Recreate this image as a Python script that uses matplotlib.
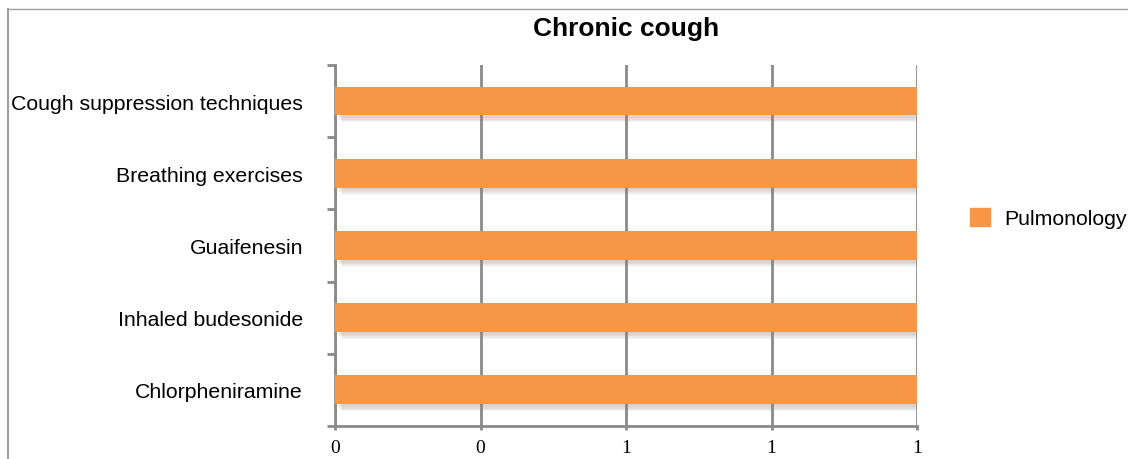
import matplotlib.pyplot as plt
import matplotlib.patheffects as pe
from matplotlib.lines import Line2D
from matplotlib.patches import Patch
from matplotlib.ticker import MultipleLocator, FuncFormatter, FixedLocator

treatments = ['Chlorpheniramine', 'Inhaled budesonide', 'Guaifenesin',
              'Breathing exercises', 'Cough suppression techniques']
pulmonology = [1, 1, 1, 1, 1]

orange = '#F79646'
grey = '#8a8a8a'

plt.rcParams['font.family'] = ['Liberation Sans', 'DejaVu Sans']

fig = plt.figure(figsize=(11.28, 4.6), dpi=100)
ax = fig.add_axes([0.297, 0.0717, 0.516, 0.785])

pos = list(range(len(treatments)))
bars = ax.barh(pos, pulmonology, height=0.4, color=orange, zorder=3)
# soft drop shadow, stacked a few times to fake a blur
shadow = [pe.SimplePatchShadow(offset=(2 + i, -2 - i), shadow_rgbFace='#808080', alpha=0.09)
          for i in range(4)]
for b in bars:
    b.set_path_effects(shadow + [pe.Normal()])

ax.set_xlim(0, 1)
ax.set_ylim(-0.5, len(treatments) - 0.5)

ax.xaxis.set_major_locator(MultipleLocator(0.25))
ax.xaxis.set_major_formatter(FuncFormatter(lambda v, p: str(int(v + 0.5))))
ax.tick_params(axis='x', length=3, width=2, color=grey, pad=6, labelsize=14)
for lab in ax.xaxis.get_majorticklabels():
    lab.set_fontfamily('Liberation Serif')

ax.set_yticks(pos)
ax.set_yticklabels(treatments, fontsize=15.3)
ax.yaxis.set_minor_locator(FixedLocator([p - 0.5 for p in pos] + [len(pos) - 0.5]))
ax.tick_params(axis='y', which='major', length=0, pad=23)
ax.tick_params(axis='y', which='minor', length=6, width=2, color=grey)

ax.grid(axis='x', color=grey, linewidth=2, zorder=0)
ax.set_axisbelow(True)
for s in ['top', 'right']:
    ax.spines[s].set_visible(False)
for s in ['left', 'bottom']:
    ax.spines[s].set_color(grey)
    ax.spines[s].set_linewidth(2)

fig.text(0.555, 0.937, 'Chronic cough', ha='center', va='center',
         fontsize=19, fontweight='bold')

fig.legend(handles=[Patch(color=orange, label='Pulmonology')],
           loc='center left', bbox_to_anchor=(0.843, 0.524), frameon=False,
           handlelength=0.93, handleheight=0.93, handletextpad=0.69, fontsize=15.3)

fig.add_artist(Line2D([0.0071, 0.0071], [0, 0.978], color='#a0a0a0', linewidth=1.5))
fig.add_artist(Line2D([0.0071, 1], [0.978, 0.978], color='#a0a0a0', linewidth=1))

fig.savefig('out.png', dpi=100)
